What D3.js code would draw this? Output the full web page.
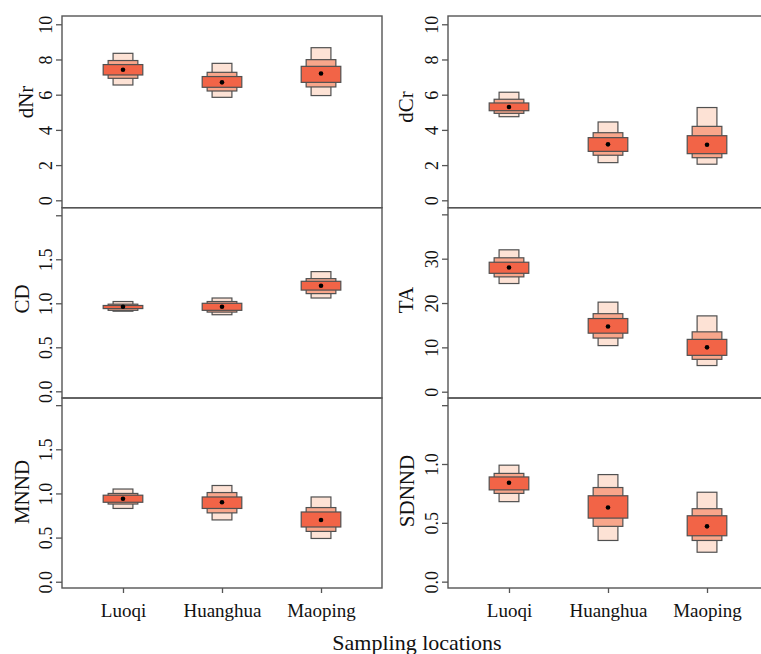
<!DOCTYPE html>
<html>
<head>
<meta charset="utf-8">
<script src="https://cdn.jsdelivr.net/npm/d3@7"></script>
<style>
  html, body { margin: 0; padding: 0; background: #fff; }
  svg { display: block; }
  svg text { font-family: 'Liberation Serif', 'Times New Roman', 'DejaVu Serif', serif !important; }
</style>
</head>
<body>
<svg id="chart" width="761" height="654"></svg>
<script>
// ---------------- data ----------------
const locations = ["Luoqi", "Huanghua", "Maoping"];

// dNr
const dNrPoint = [7.42, 6.70, 7.20];
const dNrLight = [[6.55, 8.35], [5.85, 7.78], [5.95, 8.67]];
const dNrMid   = [[6.93, 7.94], [6.21, 7.27], [6.44, 7.99]];
const dNrDark  = [[7.12, 7.71], [6.42, 7.03], [6.70, 7.61]];
// dCr
const dCrPoint = [5.30, 3.18, 3.16];
const dCrLight = [[4.75, 6.14], [2.14, 4.45], [2.05, 5.27]];
const dCrMid   = [[4.94, 5.74], [2.56, 3.84], [2.42, 4.20]];
const dCrDark  = [[5.09, 5.53], [2.78, 3.56], [2.65, 3.67]];
// CD
const cdPoint = [0.96, 0.96, 1.20];
const cdLight = [[0.91, 1.02], [0.87, 1.06], [1.06, 1.36]];
const cdMid   = [[0.92, 0.99], [0.90, 1.02], [1.11, 1.28]];
const cdDark  = [[0.94, 0.975], [0.92, 1.00], [1.15, 1.25]];
// TA
const taPoint = [28.0, 14.7, 10.0];
const taLight = [[24.4, 32.0], [10.4, 20.2], [5.9, 17.1]];
const taMid   = [[25.9, 30.2], [12.1, 17.6], [7.3, 13.5]];
const taDark  = [[26.7, 29.2], [13.2, 16.5], [8.2, 11.8]];
// MNND
const mnndPoint = [0.94, 0.90, 0.70];
const mnndLight = [[0.83, 1.05], [0.70, 1.09], [0.49, 0.96]];
const mnndMid   = [[0.88, 1.00], [0.78, 1.01], [0.57, 0.84]];
const mnndDark  = [[0.90, 0.98], [0.83, 0.96], [0.62, 0.79]];
// SDNND
const sdnndPoint = [0.84, 0.63, 0.47];
const sdnndLight = [[0.68, 0.99], [0.35, 0.91], [0.25, 0.76]];
const sdnndMid   = [[0.75, 0.92], [0.47, 0.80], [0.35, 0.62]];
const sdnndDark  = [[0.78, 0.89], [0.54, 0.73], [0.39, 0.56]];

// tick values (top one unlabelled where noted)
const ticksCount = [0, 2, 4, 6, 8, 10];
const ticksCD    = [0, 0.5, 1, 1.5, 2];
const ticksTA    = [0, 10, 20, 30, 40];
const ticksSD    = [0, 0.5, 1, 1.5];

const xLabel = "Sampling locations";

// ---------------- layout ----------------
const svg = d3.select("#chart");
const colX = [62, 448];
const panelW = 320;
const rowEdges = [16, 207.7, 398, 588];

const panels = [
  { name: "dNr",   col: 0, row: 0, pt: dNrPoint,   l: dNrLight,   m: dNrMid,   d: dNrDark,   dom: [-0.42, 10.47], ticks: ticksCount, hideTop: false, fmt: d3.format("d"),   tx: 33,  ty: 102 },
  { name: "dCr",   col: 1, row: 0, pt: dCrPoint,   l: dCrLight,   m: dCrMid,   d: dCrDark,   dom: [-0.42, 10.47], ticks: ticksCount, hideTop: false, fmt: d3.format("d"),   tx: 413, ty: 107 },
  { name: "CD",    col: 0, row: 1, pt: cdPoint,    l: cdLight,    m: cdMid,    d: cdDark,    dom: [-0.076, 2.086], ticks: ticksCD,   hideTop: true,  fmt: d3.format(".1f"), tx: 29,  ty: 299 },
  { name: "TA",    col: 1, row: 1, pt: taPoint,    l: taLight,    m: taMid,    d: taDark,    dom: [-1.42, 41.5],  ticks: ticksTA,    hideTop: true,  fmt: d3.format("d"),   tx: 413, ty: 300 },
  { name: "MNND",  col: 0, row: 2, pt: mnndPoint,  l: mnndLight,  m: mnndMid,  d: mnndDark,  dom: [-0.071, 2.081], ticks: ticksCD,   hideTop: true,  fmt: d3.format(".1f"), tx: 29,  ty: 492 },
  { name: "SDNND", col: 1, row: 2, pt: sdnndPoint, l: sdnndLight, m: sdnndMid, d: sdnndDark, dom: [-0.054, 1.561], ticks: ticksSD,   hideTop: true,  fmt: d3.format(".1f"), tx: 414, ty: 491 }
];

const layers = [
  { key: "l", w: 0.2, fill: "#FDE2D5" },
  { key: "m", w: 0.3, fill: "#F8A68B" },
  { key: "d", w: 0.4, fill: "#F26447" }
];
const stroke = "#505050";
const serif = "'Liberation Serif', 'Times New Roman', 'DejaVu Serif', serif";

panels.forEach(p => {
  const x0 = colX[p.col];
  const yTop = rowEdges[p.row], yBot = rowEdges[p.row + 1];
  const x = d3.scaleLinear().domain([0.384, 3.616]).range([x0, x0 + panelW]);
  const y = d3.scaleLinear().domain(p.dom).range([yBot, yTop]);
  const g = svg.append("g");

  layers.forEach(L => {
    g.selectAll(null).data(p[L.key]).enter().append("rect")
      .attr("x", (v, i) => x(i + 1 - L.w / 2))
      .attr("width", x(1 + L.w / 2) - x(1 - L.w / 2))
      .attr("y", v => y(v[1]))
      .attr("height", v => y(v[0]) - y(v[1]))
      .attr("fill", L.fill)
      .attr("stroke", stroke)
      .attr("stroke-width", 1.2);
  });
  g.selectAll(null).data(p.pt).enter().append("circle")
    .attr("cx", (v, i) => x(i + 1))
    .attr("cy", v => y(v))
    .attr("r", 2.3)
    .attr("fill", "#000");

  g.append("rect")
    .attr("x", x0).attr("y", yTop)
    .attr("width", panelW).attr("height", yBot - yTop)
    .attr("fill", "none").attr("stroke", "#555").attr("stroke-width", 1.4);

  const topTick = p.ticks[p.ticks.length - 1];
  const ax = d3.axisLeft(y).tickValues(p.ticks).tickSize(6).tickSizeOuter(0)
    .tickFormat(v => (p.hideTop && v === topTick) ? "" : p.fmt(v));
  const ag = svg.append("g").attr("transform", `translate(${x0},0)`).call(ax)
    .attr("font-family", serif).attr("font-size", 18);
  ag.select(".domain").remove();
  ag.selectAll(".tick line").attr("stroke", "#555").attr("stroke-width", 1.3);
  ag.selectAll(".tick text")
    .attr("x", null).attr("dy", null)
    .attr("transform", "translate(-10,0) rotate(-90)")
    .attr("text-anchor", "middle")
    .attr("fill", "#111");

  svg.append("text")
    .attr("transform", `translate(${p.tx},${p.ty}) rotate(-90)`)
    .attr("text-anchor", "middle")
    .attr("font-family", serif)
    .attr("font-size", 21)
    .attr("fill", "#111")
    .text(p.name);

  if (p.row === 2) {
    const bx = d3.axisBottom(x).tickValues([1, 2, 3]).tickSize(5).tickSizeOuter(0)
      .tickFormat(i => locations[i - 1]);
    const bg = svg.append("g").attr("transform", `translate(0,${yBot})`).call(bx)
      .attr("font-family", serif).attr("font-size", 19);
    bg.select(".domain").remove();
    bg.selectAll(".tick line").attr("stroke", "#555").attr("stroke-width", 1.3);
    bg.selectAll(".tick text")
      .attr("y", 29).attr("dy", null)
      .attr("fill", "#111");
  }
});

svg.append("text")
  .attr("x", 417).attr("y", 650)
  .attr("text-anchor", "middle")
  .attr("font-family", serif)
  .attr("font-size", 22)
  .attr("fill", "#111")
  .text(xLabel);
</script>
</body>
</html>
